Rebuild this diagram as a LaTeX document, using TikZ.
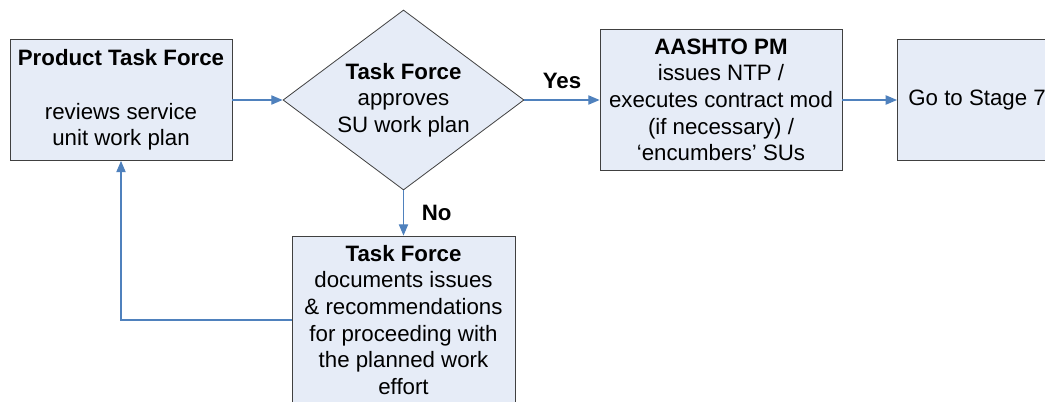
\documentclass[tikz,border=0pt]{standalone}
\usepackage{fontspec}
\setmainfont{Liberation Sans}
\usetikzlibrary{arrows.meta}
\usetikzlibrary{shapes.geometric}
\definecolor{boxfill}{HTML}{E6ECF7}
\definecolor{flowblue}{HTML}{4F81BD}
\definecolor{boxline}{HTML}{404040}

\begin{document}
\begin{tikzpicture}[x=0.75pt,y=-0.75pt,
    every node/.style={font=\fontsize{16.7}{20}\selectfont, align=center},
    stagebox/.style={draw=boxline, fill=boxfill, line width=0.6pt, inner sep=0pt},
    flow/.style={draw=flowblue, line width=0.9pt, -{Triangle[length=8.5pt,width=7pt]}}]
  \useasboundingbox (0,0) rectangle (1045,402);
  %% boxes
  \node[stagebox, minimum width=166.5pt, minimum height=90.75pt](review) at (121,100)
    {\textbf{Product Task Force}\\[20pt] reviews service\\ unit work plan};
  \node[stagebox, diamond, aspect=1.34, minimum width=180.75pt, minimum height=135pt](approve) at (403.5,100)
    {\textbf{Task Force}\\ approves\\ SU work plan};
  \node[stagebox, minimum width=181.5pt, minimum height=105.75pt](aashto) at (721,100)
    {\textbf{AASHTO PM}\\ issues NTP /\\ executes contract mod\\ (if necessary) /\\ `encumbers' SUs};
  \node[stagebox, anchor=west, inner xsep=8.25pt, minimum height=90.75pt](stage7) at (897,100)
    {Go to Stage 7};
  \node[stagebox, minimum width=167.25pt, minimum height=126pt](revise) at (403.5,320)
    {\textbf{Task Force}\\ documents issues\\ \& recommendations\\ for proceeding with\\ the planned work\\ effort};
  %% connectors
  \draw[flow] (review) -- (approve);
  \draw[flow] (approve) -- node[above=5pt, font=\fontsize{16.7}{20}\selectfont\bfseries] {Yes} (aashto);
  \draw[flow] (aashto) -- (stage7);
  \draw[flow] (approve) -- node[right=10pt, font=\fontsize{16.7}{20}\selectfont\bfseries] {No} (revise);
  \draw[flow] (revise.west) -| (review.south);
\end{tikzpicture}
\end{document}
